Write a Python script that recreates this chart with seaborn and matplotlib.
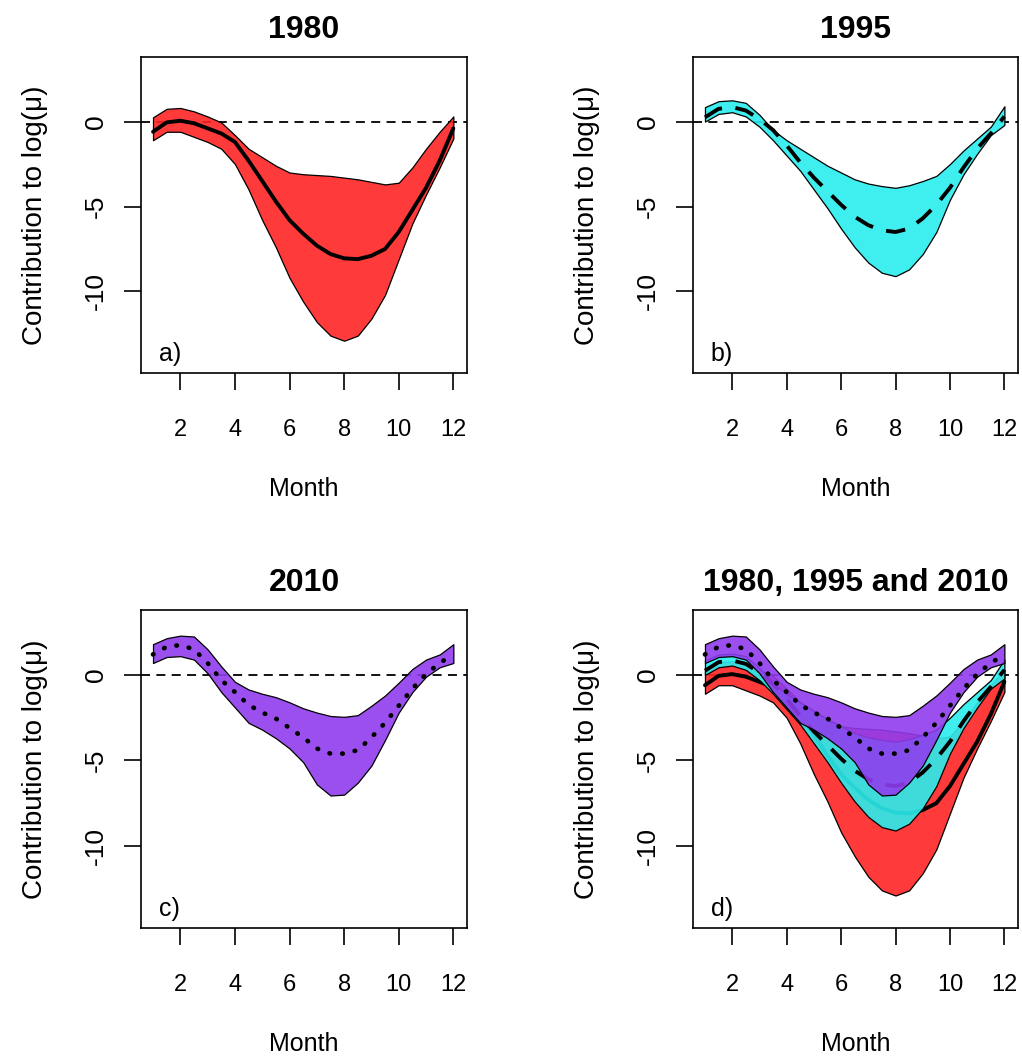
import numpy as np
import pandas as pd
import matplotlib.pyplot as plt
import seaborn as sns
from matplotlib.colors import to_rgba

# month grid shared by all three years
months = [1.0, 1.5, 2.0, 2.5, 3.0, 3.5, 4.0, 4.5, 5.0, 5.5, 6.0, 6.5,
          7.0, 7.5, 8.0, 8.5, 9.0, 9.5, 10.0, 10.5, 11.0, 11.5, 12.0]

# 1980
mean_1980 = [-0.6, -0.05, 0.05, -0.1, -0.4, -0.7, -1.2, -2.3, -3.5, -4.7, -5.8, -6.6,
             -7.3, -7.8, -8.05, -8.1, -7.9, -7.5, -6.5, -5.2, -3.9, -2.3, -0.4]
upper_1980 = [0.25, 0.75, 0.8, 0.6, 0.3, -0.05, -0.8, -1.6, -2.1, -2.6, -3.0, -3.1,
              -3.15, -3.2, -3.3, -3.4, -3.55, -3.7, -3.6, -2.7, -1.6, -0.6, 0.3]
lower_1980 = [-1.1, -0.6, -0.6, -0.9, -1.2, -1.6, -2.5, -4.0, -5.8, -7.4, -9.2, -10.6,
              -11.8, -12.6, -12.9, -12.6, -11.6, -10.2, -8.1, -6.0, -4.3, -2.7, -1.0]

# 1995
mean_1995 = [0.25, 0.75, 0.85, 0.65, 0.15, -0.5, -1.4, -2.4, -3.3, -4.1, -4.9, -5.6,
             -6.1, -6.4, -6.5, -6.3, -5.7, -4.9, -3.9, -2.7, -1.6, -0.7, 0.3]
upper_1995 = [0.85, 1.2, 1.25, 1.1, 0.4, -0.5, -1.1, -1.6, -2.1, -2.6, -3.0, -3.4,
              -3.65, -3.8, -3.9, -3.75, -3.5, -3.2, -2.5, -1.7, -1.0, -0.3, 0.9]
lower_1995 = [0.0, 0.45, 0.55, 0.3, -0.3, -1.1, -2.0, -2.9, -4.0, -5.1, -6.3, -7.4,
              -8.3, -8.9, -9.1, -8.7, -7.8, -6.5, -4.6, -3.1, -1.9, -0.8, -0.2]

# 2010
mean_2010 = [1.2, 1.65, 1.75, 1.5, 0.7, -0.3, -1.0, -1.75, -2.2, -2.55, -3.1, -3.65,
             -4.3, -4.6, -4.6, -4.4, -3.65, -2.8, -1.8, -0.8, 0.05, 0.7, 1.2]
upper_2010 = [1.8, 2.15, 2.3, 2.25, 1.5, 0.5, -0.4, -0.85, -1.1, -1.3, -1.6, -1.95,
              -2.2, -2.4, -2.45, -2.35, -1.8, -1.2, -0.45, 0.35, 0.9, 1.2, 1.8]
lower_2010 = [0.7, 1.05, 1.1, 0.9, 0.1, -1.0, -1.9, -2.8, -3.2, -3.7, -4.3, -5.1,
              -6.4, -7.05, -7.0, -6.3, -5.3, -3.8, -2.2, -1.0, -0.1, 0.45, 0.7]

years = ["1980", "1995", "2010"]
means = {"1980": mean_1980, "1995": mean_1995, "2010": mean_2010}
uppers = {"1980": upper_1980, "1995": upper_1995, "2010": upper_2010}
lowers = {"1980": lower_1980, "1995": lower_1995, "2010": lower_2010}
colors = {"1980": "#ff2424", "1995": "#2aeeee", "2010": "#903cee"}
styles = {"1980": "-", "1995": (0, (5, 3.5)), "2010": (0, (0.1, 2.6))}

sns.set_theme(style="white")
plt.rcParams["font.family"] = ["Liberation Sans", "DejaVu Sans"]
plt.rcParams["axes.unicode_minus"] = False
for k in ["text.color", "axes.labelcolor", "xtick.color", "ytick.color", "axes.edgecolor"]:
    plt.rcParams[k] = "black"

fig = plt.figure(figsize=(10.22, 10.6), dpi=100)
W, H = 1022, 1060
boxes = {
    "a": (141, 57, 467, 373),
    "b": (693, 57, 1018, 373),
    "c": (141, 610, 467, 928),
    "d": (693, 610, 1018, 928),
}


def make_ax(box):
    l, t, r, b = box
    return fig.add_axes([l / W, 1 - b / H, (r - l) / W, (b - t) / H])


def draw_year(ax, yr, layer=0):
    df = pd.DataFrame({"month": months, "mean": means[yr]})
    ax.fill_between(months, lowers[yr], uppers[yr],
                    facecolor=to_rgba(colors[yr], 0.9), edgecolor="black",
                    linewidth=0.9, zorder=1 + 2 * layer)
    sns.lineplot(data=df, x="month", y="mean", ax=ax, color="black",
                 linewidth=2.8 if yr != "2010" else 3.4, linestyle=styles[yr],
                 dash_capstyle="round" if yr == "2010" else "butt",
                 zorder=2 + 2 * layer)


def style_ax(ax, title, letter):
    ax.axhline(0, color="black", linestyle=(0, (5, 3.5)), linewidth=1.3, zorder=0.5)
    ax.set_xlim(0.56, 12.5)
    ax.set_ylim(-14.8, 3.8)
    ax.set_xticks([2, 4, 6, 8, 10, 12])
    ax.set_yticks([-10, -5, 0])
    ax.set_title(title, fontsize=23, fontweight="bold", pad=14)
    ax.set_xlabel("Month", fontsize=18, labelpad=26)
    ax.set_ylabel("Contribution to log(\u03bc)", fontsize=20, labelpad=26)
    ax.tick_params(axis="both", direction="out", length=12, width=1.2,
                   color="black", bottom=True, left=True)
    ax.tick_params(axis="x", pad=21, labelsize=17)
    ax.tick_params(axis="y", pad=12, labelrotation=90, labelsize=19)
    for lab in ax.get_yticklabels():
        lab.set_va("center")
    for s in ax.spines.values():
        s.set_color("black")
        s.set_linewidth(1.2)
    ax.text(0.055, 0.06, letter, transform=ax.transAxes, fontsize=18,
            ha="left", va="center", zorder=10)


ax = make_ax(boxes["a"])
draw_year(ax, "1980")
style_ax(ax, "1980", "a)")

ax = make_ax(boxes["b"])
draw_year(ax, "1995")
style_ax(ax, "1995", "b)")

ax = make_ax(boxes["c"])
draw_year(ax, "2010")
style_ax(ax, "2010", "c)")

ax = make_ax(boxes["d"])
for i, yr in enumerate(years):
    draw_year(ax, yr, layer=i)
style_ax(ax, "1980, 1995 and 2010", "d)")

fig.savefig("out.png", dpi=100, facecolor="white")
